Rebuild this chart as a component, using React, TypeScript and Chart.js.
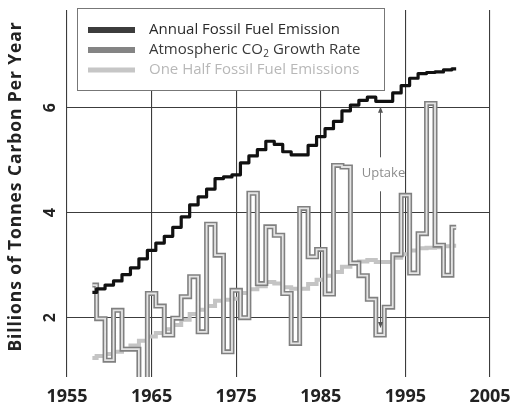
import React, { useEffect, useRef } from "react";
import { Chart, registerables } from "chart.js";

Chart.register(...registerables);

// Annual series, 1958–2001 (billions of tonnes of carbon per year)
const years = [
  1958, 1959, 1960, 1961, 1962, 1963, 1964, 1965, 1966, 1967,
  1968, 1969, 1970, 1971, 1972, 1973, 1974, 1975, 1976, 1977,
  1978, 1979, 1980, 1981, 1982, 1983, 1984, 1985, 1986, 1987,
  1988, 1989, 1990, 1991, 1992, 1993, 1994, 1995, 1996, 1997,
  1998, 1999, 2000, 2001,
];

const fossilEmission = [
  2.48, 2.55, 2.62, 2.7, 2.82, 2.95, 3.12, 3.28, 3.42, 3.55,
  3.72, 3.92, 4.15, 4.3, 4.45, 4.65, 4.68, 4.72, 4.95, 5.08,
  5.2, 5.36, 5.3, 5.16, 5.1, 5.1, 5.28, 5.45, 5.6, 5.74,
  5.94, 6.05, 6.14, 6.2, 6.12, 6.12, 6.28, 6.42, 6.56, 6.65,
  6.67, 6.68, 6.72, 6.74,
];

const co2GrowthRate = [
  2.62, 1.98, 1.19, 2.14, 1.4, 1.4, 0.6, 2.46, 2.22, 1.67,
  1.99, 2.4, 2.78, 1.73, 3.78, 3.19, 1.35, 2.52, 2.0, 4.37,
  2.65, 3.73, 3.57, 2.46, 1.51, 4.08, 3.16, 3.3, 2.45, 4.9,
  4.87, 3.04, 2.8, 2.35, 1.67, 2.2, 3.2, 4.33, 2.85, 3.6,
  6.08, 3.38, 2.81, 3.72,
];

const halfFossilEmission = [
  1.23, 1.27, 1.31, 1.35, 1.41, 1.47, 1.56, 1.64, 1.71, 1.78,
  1.86, 1.96, 2.07, 2.15, 2.22, 2.32, 2.34, 2.36, 2.47, 2.54,
  2.6, 2.68, 2.65, 2.58, 2.55, 2.55, 2.64, 2.72, 2.8, 2.87,
  2.97, 3.02, 3.07, 3.1, 3.06, 3.06, 3.14, 3.21, 3.28, 3.32,
  3.33, 3.34, 3.36, 3.37,
];

const xTickYears = [1955, 1965, 1975, 1985, 1995, 2005];
const yTickValues = [2, 4, 6];

const yAxisTitle = "Billions of Tonnes Carbon Per Year";
const legendFossil = "Annual Fossil Fuel Emission";
const legendCo2 = ["Atmospheric CO", "2", " Growth Rate"];
const legendHalf = "One Half Fossil Fuel Emissions";

// Uptake marker: vertical arrow at one year spanning two values
const uptakeLabel = "Uptake";
const uptakeYear = 1992;
const uptakeFrom = 1.82;
const uptakeTo = 6.0;
const uptakeLabelValue = 4.75;

const FONT = "'Open Sans', 'Noto Sans', sans-serif";

const toPoints = (vals: number[]) => years.map((yr, i) => ({ x: yr, y: vals[i] }));

const overlayPlugin = {
  id: "overlay",
  afterDraw(chart: any) {
    const { ctx, chartArea, scales } = chart;
    const xs = scales.x;
    const ys = scales.y;
    ctx.save();

    // y tick labels, rotated
    ctx.font = `bold 16px ${FONT}`;
    ctx.fillStyle = "#222";
    ctx.textAlign = "center";
    ctx.textBaseline = "middle";
    for (const v of yTickValues) {
      const py = ys.getPixelForValue(v);
      ctx.save();
      ctx.translate(chartArea.left - 17, py);
      ctx.rotate(-Math.PI / 2);
      ctx.fillText(String(v), 0, 0);
      ctx.restore();
    }

    // y axis title
    ctx.save();
    ctx.font = `bold 17.5px ${FONT}`;
    try {
      (ctx as any).letterSpacing = "0.9px";
    } catch (e) {
      /* older canvas */
    }
    ctx.translate(16, (chartArea.top + chartArea.bottom) / 2 - 7);
    ctx.rotate(-Math.PI / 2);
    ctx.fillText(yAxisTitle, 0, 0);
    ctx.restore();

    // Uptake arrow
    const ux = Math.round(xs.getPixelForValue(uptakeYear)) + 0.5;
    const yTop = ys.getPixelForValue(uptakeTo);
    const yBot = ys.getPixelForValue(uptakeFrom);
    const yLbl = ys.getPixelForValue(uptakeLabelValue);
    ctx.strokeStyle = "#555";
    ctx.lineWidth = 1;
    ctx.beginPath();
    ctx.moveTo(ux, yTop);
    ctx.lineTo(ux, yLbl - 16);
    ctx.moveTo(ux, yLbl + 18);
    ctx.lineTo(ux, yBot);
    ctx.stroke();
    ctx.fillStyle = "#555";
    ctx.beginPath();
    ctx.moveTo(ux, yTop - 1);
    ctx.lineTo(ux - 2.5, yTop + 5);
    ctx.lineTo(ux + 2.5, yTop + 5);
    ctx.closePath();
    ctx.fill();
    ctx.beginPath();
    ctx.moveTo(ux, yBot + 1);
    ctx.lineTo(ux - 2.5, yBot - 5);
    ctx.lineTo(ux + 2.5, yBot - 5);
    ctx.closePath();
    ctx.fill();
    ctx.font = `13px ${FONT}`;
    ctx.fillStyle = "#8e8e8e";
    ctx.textAlign = "center";
    ctx.textBaseline = "middle";
    ctx.fillText(uptakeLabel, ux + 3, yLbl);

    // Legend box
    const lx = chartArea.left + 10;
    const ly = chartArea.top - 2;
    const lw = 307;
    const lh = 82;
    ctx.fillStyle = "#fff";
    ctx.fillRect(lx, ly, lw, lh);
    ctx.strokeStyle = "#777";
    ctx.lineWidth = 1;
    ctx.strokeRect(lx + 0.5, ly + 0.5, lw, lh);

    const rows = [
      { y: ly + 22, swatch: "#3c3c3c", h: 6, text: "#2a2a2a" },
      { y: ly + 42, swatch: "#848484", h: 6, text: "#3a3a3a" },
      { y: ly + 62, swatch: "#c6c6c6", h: 5, text: "#b8b8b8" },
    ];
    const sx = lx + 11;
    const tx = lx + 72;
    rows.forEach((r, i) => {
      ctx.fillStyle = r.swatch;
      ctx.fillRect(sx, r.y - r.h / 2, 47, r.h);
      ctx.fillStyle = r.text;
      ctx.textAlign = "left";
      ctx.textBaseline = "middle";
      ctx.font = `15px ${FONT}`;
      if (i === 0) ctx.fillText(legendFossil, tx, r.y);
      if (i === 2) ctx.fillText(legendHalf, tx, r.y);
      if (i === 1) {
        let cx = tx;
        ctx.fillText(legendCo2[0], cx, r.y);
        cx += ctx.measureText(legendCo2[0]).width;
        ctx.font = `10px ${FONT}`;
        ctx.fillText(legendCo2[1], cx + 0.5, r.y + 4);
        cx += ctx.measureText(legendCo2[1]).width + 0.5;
        ctx.font = `15px ${FONT}`;
        ctx.fillText(legendCo2[2], cx, r.y);
      }
    });

    ctx.restore();
  },
};

export default function App() {
  const canvasRef = useRef<HTMLCanvasElement | null>(null);

  useEffect(() => {
    if (!canvasRef.current) return;
    const gridStyle = { color: "#3c3c3c", lineWidth: 1.1, drawTicks: false };
    const chart = new Chart(canvasRef.current, {
      type: "line",
      data: {
        datasets: [
          {
            label: legendFossil,
            data: toPoints(fossilEmission),
            borderColor: "#111",
            borderWidth: 3.2,
            borderJoinStyle: "round",
            stepped: "middle",
            pointRadius: 0,
            order: 0,
          },
          {
            label: "co2-inner",
            data: toPoints(co2GrowthRate),
            borderColor: "#e4e4e4",
            borderWidth: 1.8,
            stepped: "middle",
            pointRadius: 0,
            order: 1,
          },
          {
            label: "co2-outer",
            data: toPoints(co2GrowthRate),
            borderColor: "#808080",
            borderWidth: 5,
            stepped: "middle",
            pointRadius: 0,
            order: 2,
          },
          {
            label: legendHalf,
            data: toPoints(halfFossilEmission),
            borderColor: "#c4c4c4",
            borderWidth: 4,
            stepped: "middle",
            pointRadius: 0,
            order: 3,
          },
        ],
      },
      options: {
        animation: false,
        responsive: true,
        maintainAspectRatio: false,
        layout: { padding: { top: 10, right: 20, left: 0, bottom: 0 }, autoPadding: false },
        plugins: { legend: { display: false }, tooltip: { enabled: false } },
        events: [],
        scales: {
          x: {
            type: "linear",
            min: 1955,
            max: 2005,
            afterBuildTicks: (s: any) => {
              s.ticks = xTickYears.map((v) => ({ value: v }));
            },
            afterFit: (s: any) => {
              s.height = 33;
              s.paddingLeft = 0;
              s.paddingRight = 0;
            },
            ticks: {
              font: { family: FONT, size: 18, weight: "bold" },
              color: "#222",
              padding: 9,
              maxRotation: 0,
              callback: (v: any) => String(v),
            },
            grid: gridStyle,
            border: { display: false },
          },
          y: {
            type: "linear",
            min: 0.87,
            max: 7.86,
            afterBuildTicks: (s: any) => {
              s.ticks = yTickValues.map((v) => ({ value: v }));
            },
            afterFit: (s: any) => {
              s.width = 67;
              s.paddingTop = 0;
              s.paddingBottom = 0;
            },
            ticks: { display: false },
            grid: gridStyle,
            border: { display: false },
          },
        },
      } as any,
      plugins: [overlayPlugin],
    });
    return () => chart.destroy();
  }, []);

  return (
    <div style={{ position: "absolute", left: 0, top: 0, width: 510, height: 410, background: "#fff" }}>
      <canvas ref={canvasRef} />
    </div>
  );
}
